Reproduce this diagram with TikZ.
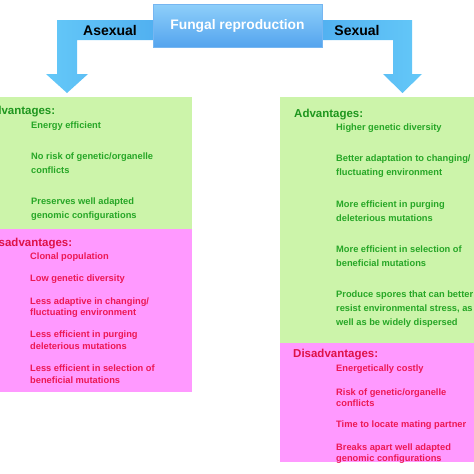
\documentclass[tikz,border=0pt]{standalone}
\usepackage{fontspec}
\setmainfont{Liberation Sans}
\definecolor{gfill}{RGB}{204,244,170}
\definecolor{pfill}{RGB}{255,153,255}
\definecolor{gtext}{RGB}{38,166,38}
\definecolor{ghead}{RGB}{30,150,30}
\definecolor{ptext}{RGB}{236,24,84}
\definecolor{phead}{RGB}{222,18,72}
\definecolor{boxtop}{RGB}{142,207,250}
\definecolor{boxbot}{RGB}{84,164,238}
\definecolor{arrlight}{RGB}{100,200,248}
\definecolor{arrdark}{RGB}{80,175,240}
\tikzset{
  gitem/.style={anchor=base west,inner sep=0pt,text=gtext,font=\bfseries\fontsize{9.3}{11}\selectfont},
  pitem/.style={anchor=base west,inner sep=0pt,text=ptext,font=\bfseries\fontsize{9.3}{11}\selectfont},
  ghd/.style={anchor=base west,inner sep=0pt,text=ghead,font=\bfseries\fontsize{11.5}{13}\selectfont},
  phd/.style={anchor=base west,inner sep=0pt,text=phead,font=\bfseries\fontsize{11.5}{13}\selectfont},
  sidelbl/.style={inner sep=0pt,text=black,font=\bfseries\fontsize{14}{16}\selectfont},
}
\begin{document}
\begin{tikzpicture}[x=1pt,y=-1pt]
\useasboundingbox (0,0) rectangle (474,474);
% panels
\fill[gfill] (0,97) rectangle (192,229);
\fill[pfill] (0,229) rectangle (192,392);
\fill[gfill] (280,97) rectangle (474,343);
\fill[pfill] (280,343) rectangle (474,462);
% arrows
\path[left color=arrlight,right color=arrdark]
  (160,20) -- (57,20) -- (57,74) -- (46,74) -- (67,93) -- (88,74) -- (77,74) -- (77,40) -- (160,40) -- cycle;
\path[left color=arrdark,right color=arrlight]
  (312,20) -- (412,20) -- (412,74) -- (422,74) -- (402.5,93) -- (383,74) -- (393,74) -- (393,40) -- (312,40) -- cycle;
% central box
\node[draw=boxbot!80!white,line width=0.4pt,top color=boxtop,bottom color=boxbot,
      minimum width=169pt,minimum height=43pt,inner sep=0pt,text=white,
      font=\bfseries\fontsize{13.8}{16}\selectfont] (fr) at (237.5,25.5) {Fungal reproduction};
\node[sidelbl] (asx) at (110,30.5) {Asexual};
\node[sidelbl] (sx) at (357,30.5) {Sexual};
% left advantages
\node[ghd] (la) at (-14,114) {Advantages:};
\node[gitem] (la1) at (31,128.4) {Energy efficient};
\node[gitem] (la2) at (31,159.4) {No risk of genetic/organelle};
\node[gitem] (la2b) at (31,173.4) {conflicts};
\node[gitem] (la3) at (31,204.4) {Preserves well adapted};
\node[gitem] (la3b) at (31,218.4) {genomic configurations};
% left disadvantages
\node[phd] (ld) at (-13,246) {Disadvantages:};
\node[pitem] (ld1) at (30,259.4) {Clonal population};
\node[pitem] (ld2) at (30,281.4) {Low genetic diversity};
\node[pitem] (ld3) at (30,304.4) {Less adaptive in changing/};
\node[pitem] (ld3b) at (30,315.9) {fluctuating environment};
\node[pitem] (ld4) at (30,337.4) {Less efficient in purging};
\node[pitem] (ld4b) at (30,349.1) {deleterious mutations};
\node[pitem] (ld5) at (30,371.4) {Less efficient in selection of};
\node[pitem] (ld5b) at (30,383.1) {beneficial mutations};
% right advantages
\node[ghd] (ra) at (294,117) {Advantages:};
\node[gitem] (ra1) at (336,130.4) {Higher genetic diversity};
\node[gitem] (ra2) at (336,161.4) {Better adaptation to changing/};
\node[gitem] (ra2b) at (336,175.9) {fluctuating environment};
\node[gitem] (ra3) at (336,207.4) {More efficient in purging};
\node[gitem] (ra3b) at (336,221.4) {deleterious mutations};
\node[gitem] (ra4) at (336,252.4) {More efficient in selection of};
\node[gitem] (ra4b) at (336,266.4) {beneficial mutations};
\node[gitem] (ra5) at (336,297.4) {Produce spores that can better};
\node[gitem] (ra5b) at (336,311.6) {resist environmental stress, as};
\node[gitem] (ra5c) at (336,325.8) {well as be widely dispersed};
% right disadvantages
\node[phd] (rd) at (293,357) {Disadvantages:};
\node[pitem] (rd1) at (336,371.4) {Energetically costly};
\node[pitem] (rd2) at (336,395.4) {Risk of genetic/organelle};
\node[pitem] (rd2b) at (336,406.6) {conflicts};
\node[pitem] (rd3) at (336,427.4) {Time to locate mating partner};
\node[pitem] (rd4) at (336,450.4) {Breaks apart well adapted};
\node[pitem] (rd4b) at (336,461.6) {genomic configurations};
\end{tikzpicture}
\end{document}
